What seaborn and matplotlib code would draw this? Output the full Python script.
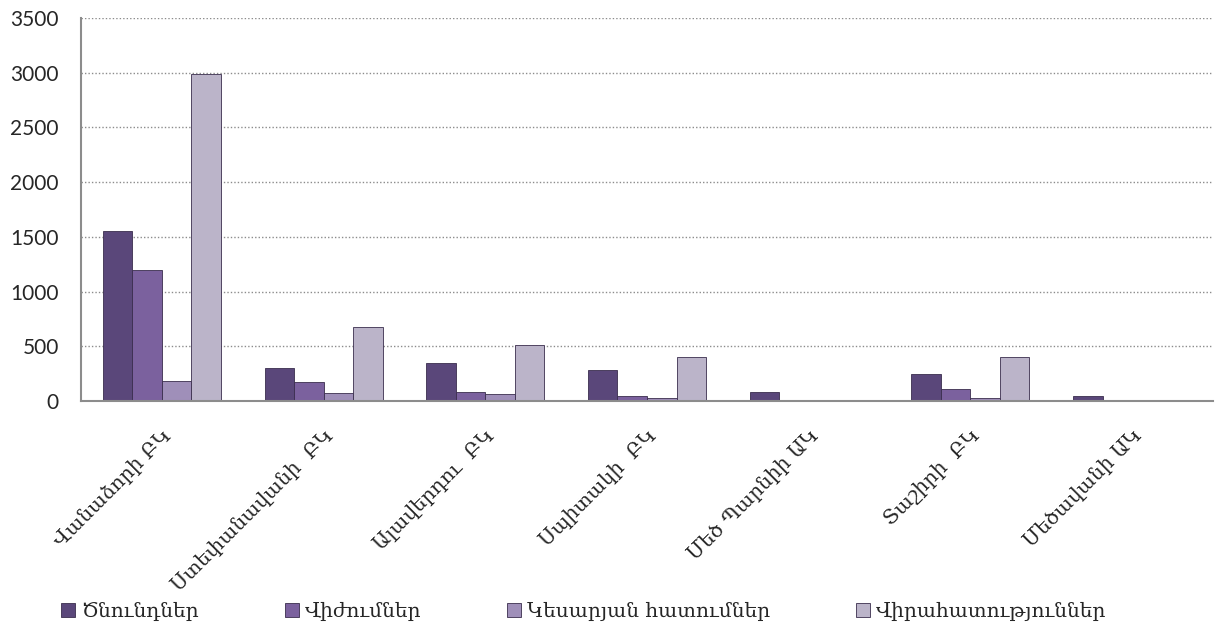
import pandas as pd
import matplotlib
matplotlib.use('Agg')
import matplotlib.pyplot as plt
import seaborn as sns

# categories (hospitals) and series values
hospitals = ['Վանաձորի ԲԿ', 'Ստեփանավանի  ԲԿ', 'Ալավերդու  ԲԿ', 'Սպիտակի  ԲԿ',
             'Մեծ Պարնիի ԱԿ', 'Տաշիրի  ԲԿ', 'Մեծավանի ԱԿ']
births = [1550, 300, 350, 285, 80, 250, 45]
abortions = [1200, 175, 80, 45, 0, 110, 0]
caesareans = [180, 75, 65, 25, 0, 25, 0]
surgeries = [2990, 680, 510, 400, 0, 400, 5]

series_names = ['Ծնունդներ', 'Վիժումներ', 'Կեսարյան հատումներ', 'Վիրահատություններ']
colors = ['#583f82', '#7a57a8', '#9d88c0', '#bab1cc']

# build a long table for seaborn
rows = []
for name, vals in zip(series_names, [births, abortions, caesareans, surgeries]):
    for h, v in zip(hospitals, vals):
        rows.append({'hospital': h, 'series': name, 'value': v})
df = pd.DataFrame(rows)

sns.set_style('white')
plt.rcParams['font.family'] = ['DejaVu Serif']

fig = plt.figure(figsize=(12.15, 6.3), dpi=100)
ax = fig.add_axes([81 / 1215, 1 - 401 / 630, (1213 - 81) / 1215, (401 - 18) / 630])

sns.barplot(data=df, x='hospital', y='value', hue='series', palette=colors,
            width=0.73, edgecolor='#3a2d4d', linewidth=0.6, ax=ax, legend=True)

ax.set_ylim(0, 3500)
ax.set_xlim(-0.5, len(hospitals) - 0.5)
ax.set_yticks(range(0, 3501, 500))
ax.yaxis.grid(True, linestyle=(0, (1, 1.5)), color='#8c8c8c', linewidth=1.0)
ax.set_axisbelow(True)
ax.set_xlabel('')
ax.set_ylabel('')

for s in ['top', 'right']:
    ax.spines[s].set_visible(False)
for s in ['left', 'bottom']:
    ax.spines[s].set_color('#8c8c8c')
    ax.spines[s].set_linewidth(1.5)

# y tick labels in a sans font
for lbl in ax.get_yticklabels():
    lbl.set_family('Lato')
    lbl.set_fontsize(15)
ax.tick_params(axis='y', length=5, color='#8c8c8c', width=1.2, pad=11)

# category labels rotated, tick marks between groups
ax.set_xticks(range(len(hospitals)))
ax.set_xticklabels(hospitals, rotation=45, ha='right', rotation_mode='anchor',
                   fontsize=14.5)
ax.tick_params(axis='x', length=0, pad=18)
ax.set_xticks([i - 0.5 for i in range(len(hospitals) + 1)], minor=True)
ax.tick_params(axis='x', which='minor', length=7, color='#8c8c8c', width=1.2)

# legend at the bottom
handles, labels = ax.get_legend_handles_labels()
ax.get_legend().remove()
fig.legend(handles, labels, loc='lower left', bbox_to_anchor=(0.0355, -0.014), ncol=4,
           frameon=False, fontsize=14.5, handlelength=0.7, handleheight=0.7,
           handletextpad=0.3, columnspacing=4.25)

plt.savefig('out.png', dpi=100)
